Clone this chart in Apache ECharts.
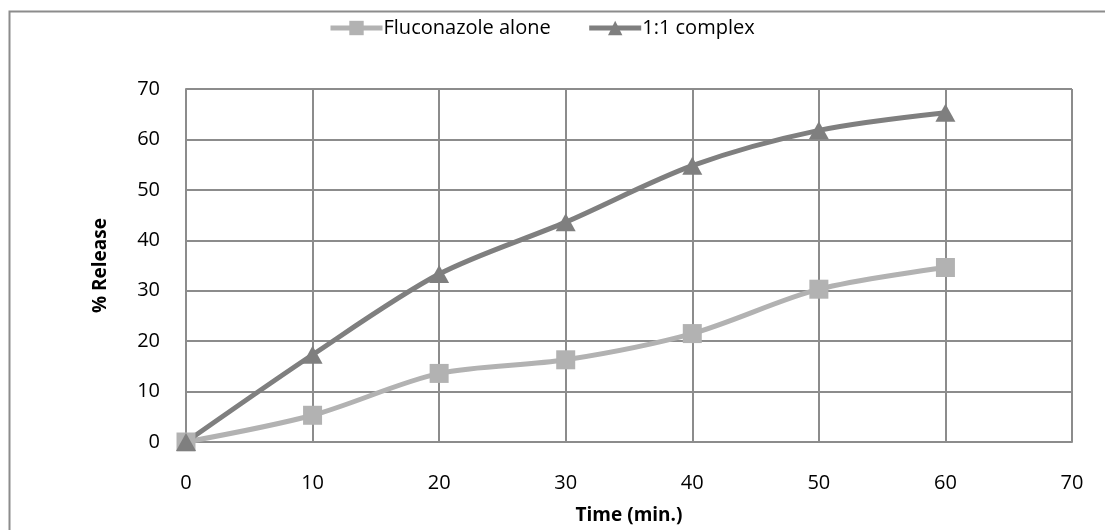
<!DOCTYPE html>
<html>
<head>
<meta charset="utf-8">
<script src="https://cdn.jsdelivr.net/npm/echarts@6/dist/echarts.min.js"></script>
<style>
  html, body { margin: 0; padding: 0; background: #fff; }
  #chart { width: 1105px; height: 530px; }
</style>
</head>
<body>
<div id="chart"></div>
<script>
const times = [0, 10, 20, 30, 40, 50, 60]
const fluconazoleAlone = [0, 5.3, 13.6, 16.3, 21.5, 30.3, 34.6]
const complex11 = [0, 17.3, 33.3, 43.6, 54.8, 61.8, 65.3]
const seriesNames = ['Fluconazole alone', '1:1 complex']

const font = 'Open Sans, Liberation Sans, sans-serif'
const gridColor = '#8c8c8c'

const chart = echarts.init(document.getElementById('chart'))

const pairs = (ys) => times.map((t, i) => [t, ys[i]])

chart.setOption({
  animation: false,
  backgroundColor: '#fff',
  textStyle: { fontFamily: font },
  graphic: [{
    type: 'rect',
    shape: { x: 9.5, y: 11.5, width: 1200, height: 600 },
    style: { fill: 'none', stroke: '#8c8c8c', lineWidth: 2 }
  }],
  legend: {
    top: 13,
    left: 323,
    itemWidth: 52,
    itemHeight: 18,
    itemGap: 36,
    lineStyle: { width: 5 },
    textStyle: { fontSize: 20, color: '#000', fontFamily: font, padding: [0, 0, 0, -4] },
    data: seriesNames
  },
  grid: { left: 186, right: 33, top: 89, bottom: 88 },
  xAxis: {
    type: 'value',
    min: 0,
    max: 70,
    interval: 10,
    name: 'Time (min.)',
    nameLocation: 'middle',
    nameGap: 64,
    nameTextStyle: { fontSize: 19, fontWeight: 'bold', color: '#000' },
    axisLine: { show: true, lineStyle: { color: gridColor, width: 2 } },
    axisTick: { show: false },
    axisLabel: { fontSize: 20, color: '#000', margin: 31 },
    splitLine: { show: true, lineStyle: { color: gridColor, width: 2 } }
  },
  yAxis: {
    type: 'value',
    min: 0,
    max: 70,
    interval: 10,
    name: '% Release',
    nameLocation: 'middle',
    nameGap: 76,
    nameTextStyle: { fontSize: 19, fontWeight: 'bold', color: '#000' },
    axisLine: { show: true, lineStyle: { color: gridColor, width: 2 } },
    axisTick: { show: false },
    axisLabel: { fontSize: 20, color: '#000', margin: 26 },
    splitLine: { show: true, lineStyle: { color: gridColor, width: 2 } }
  },
  series: [
    {
      name: seriesNames[0],
      type: 'line',
      smooth: 0.3,
      symbol: 'rect',
      symbolSize: 19,
      lineStyle: { width: 5, color: '#b2b2b2' },
      itemStyle: { color: '#b2b2b2' },
      data: pairs(fluconazoleAlone)
    },
    {
      name: seriesNames[1],
      type: 'line',
      smooth: 0.3,
      symbol: 'triangle',
      symbolSize: [20, 18],
      lineStyle: { width: 5, color: '#7f7f7f' },
      itemStyle: { color: '#7f7f7f' },
      data: pairs(complex11)
    }
  ]
})
</script>
</body>
</html>
